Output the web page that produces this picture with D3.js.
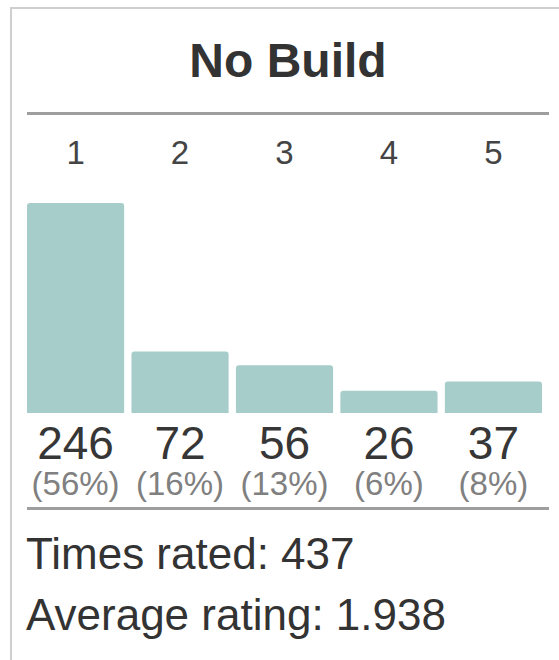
<!DOCTYPE html>
<html>
<head>
<meta charset="utf-8">
<script src="https://cdn.jsdelivr.net/npm/d3@7"></script>
<style>
  html, body { margin: 0; padding: 0; background: #fff; }
  svg { display: block; font-family: "Liberation Sans", Arial, sans-serif; }
</style>
</head>
<body>
<div id="chart"></div>
<script>
// rating box for one build
const title = "No Build";
const ratings = ["1", "2", "3", "4", "5"];
const counts = [246, 72, 56, 26, 37];
const percents = ["(56%)", "(16%)", "(13%)", "(6%)", "(8%)"];
const timesRated = 437;
const averageRating = "1.938";

const width = 559, height = 660;

const svg = d3.select("#chart").append("svg")
  .attr("width", width)
  .attr("height", height);

// panel border (only left and top are visible in the crop)
svg.append("rect")
  .attr("x", 11)
  .attr("y", 8)
  .attr("width", 600)
  .attr("height", 700)
  .style("fill", "none")
  .style("stroke", "#cfcfcf")
  .style("stroke-width", 2);

svg.append("text")
  .attr("x", 288)
  .attr("y", 77)
  .attr("text-anchor", "middle")
  .style("font-size", "48px")
  .style("font-weight", "bold")
  .style("fill", "#333")
  .text(title);

const rules = [113.5, 508.5];
svg.selectAll("line.rule")
  .data(rules)
  .join("line")
  .attr("class", "rule")
  .attr("x1", 27)
  .attr("x2", 549)
  .attr("y1", d => d)
  .attr("y2", d => d)
  .style("stroke", "#9e9e9e")
  .style("stroke-width", 3);

const x = d3.scaleBand()
  .domain(ratings)
  .range([27, 542])
  .paddingInner(0.07)
  .paddingOuter(0);

const y = d3.scaleLinear()
  .domain([0, d3.max(counts)])
  .range([413, 203]);

const data = ratings.map((r, i) => ({ rating: r, count: counts[i], pct: percents[i] }));

// bars with rounded top corners only
function barPath(d) {
  const x0 = x(d.rating), w = x.bandwidth();
  const y0 = y(d.count), y1 = y(0), r = 3;
  return `M${x0},${y1}V${y0 + r}Q${x0},${y0} ${x0 + r},${y0}H${x0 + w - r}` +
    `Q${x0 + w},${y0} ${x0 + w},${y0 + r}V${y1}Z`;
}

svg.selectAll("path.bar")
  .data(data)
  .join("path")
  .attr("class", "bar")
  .attr("d", barPath)
  .style("fill", "#a6cdc9");

const cx = d => x(d.rating) + x.bandwidth() / 2;

svg.selectAll("text.rating")
  .data(data)
  .join("text")
  .attr("class", "rating")
  .attr("x", cx)
  .attr("y", 164)
  .attr("text-anchor", "middle")
  .style("font-size", "33px")
  .style("fill", "#444")
  .text(d => d.rating);

svg.selectAll("text.count")
  .data(data)
  .join("text")
  .attr("class", "count")
  .attr("x", cx)
  .attr("y", 459)
  .attr("text-anchor", "middle")
  .style("font-size", "46px")
  .style("fill", "#363636")
  .text(d => d.count);

svg.selectAll("text.pct")
  .data(data)
  .join("text")
  .attr("class", "pct")
  .attr("x", cx)
  .attr("y", 495)
  .attr("text-anchor", "middle")
  .style("font-size", "33px")
  .style("fill", "#808080")
  .text(d => d.pct);

const footer = ["Times rated: " + timesRated, "Average rating: " + averageRating];
svg.selectAll("text.footer")
  .data(footer)
  .join("text")
  .attr("class", "footer")
  .attr("x", 26)
  .attr("y", (d, i) => 569 + i * 61)
  .style("font-size", "44px")
  .style("fill", "#333")
  .text(d => d);
</script>
</body>
</html>
